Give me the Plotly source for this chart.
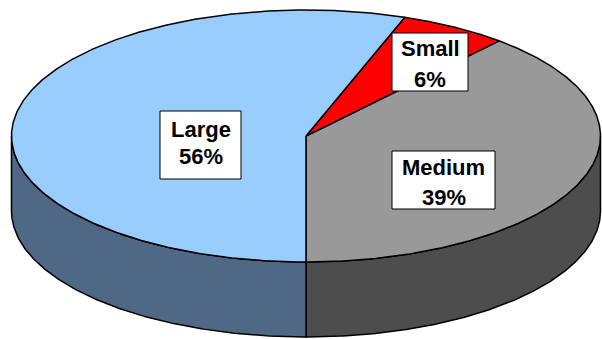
import numpy as np
import plotly.graph_objects as go

# Slice data, in drawing order (counter-clockwise from six o'clock)
categories = ["Medium", "Small", "Large"]
shares = [39, 6, 56]
top_colors = ["#999999", "#FF0000", "#99CCFF"]
side_colors = ["#4D4D4D", "#B00000", "#4F6886"]

# Pie geometry (pixel space of the page)
W, H = 602, 339
CX, CY = 306.0, 136.0     # centre of the top face
RX, RY = 294.5, 126.0     # semi-axes of the top ellipse
DEPTH = 75.0              # thickness of the disc
START = -90.0             # degrees, six o'clock

# Label boxes: left, top, right, bottom, and the centre y of each text line
label_boxes = {
    "Large": (160, 111, 241, 179, 129.0, 156.5),
    "Small": (392, 33, 468, 91, 48.5, 79.5),
    "Medium": (392, 151, 495, 209, 167.5, 197.5),
}
FONT = dict(family="Liberation Sans, Arial, sans-serif", size=22,
            color="black", weight="bold")


def ellipse(theta_deg, drop=0.0):
    t = np.radians(theta_deg)
    return CX + RX * np.cos(t), CY - RY * np.sin(t) + drop


total = float(sum(shares))
bounds = [START]
for s in shares:
    bounds.append(bounds[-1] + 360.0 * s / total)

fig = go.Figure()

# Front side wall of each slice (only the part facing the viewer)
for i, name in enumerate(categories):
    a0, a1 = bounds[i], bounds[i + 1]
    for lo, hi in [(-180.0, 0.0), (180.0, 360.0)]:
        s0, s1 = max(a0, lo), min(a1, hi)
        if s1 - s0 <= 0.01:
            continue
        th = np.linspace(s0, s1, 200)
        xt, yt = ellipse(th)
        xb, yb = ellipse(th[::-1], DEPTH)
        xs = np.concatenate([xt, xb, xt[:1]])
        ys = np.concatenate([yt, yb, yt[:1]])
        fig.add_trace(go.Scatter(
            x=xs, y=ys, mode="lines", fill="toself",
            fillcolor=side_colors[i],
            line=dict(color="black", width=1.5),
            hoverinfo="skip", showlegend=False,
        ))

# Top face of each slice
for i, name in enumerate(categories):
    a0, a1 = bounds[i], bounds[i + 1]
    th = np.linspace(a0, a1, 400)
    xa, ya = ellipse(th)
    xs = np.concatenate([[CX], xa, [CX]])
    ys = np.concatenate([[CY], ya, [CY]])
    fig.add_trace(go.Scatter(
        x=xs, y=ys, mode="lines", fill="toself",
        fillcolor=top_colors[i],
        line=dict(color="black", width=1.5),
        hoverinfo="skip", showlegend=False, name=name,
    ))

# Boxed category / percentage labels
for name, val in zip(categories, shares):
    x0, y0, x1, y1, ly1, ly2 = label_boxes[name]
    fig.add_shape(type="rect", xref="x", yref="y", x0=x0, y0=y0, x1=x1, y1=y1,
                  fillcolor="white", line=dict(color="black", width=1))
    xm = (x0 + x1) / 2
    for txt, ly in [(name, ly1), (f"{val}%", ly2)]:
        fig.add_annotation(x=xm, y=ly, xref="x", yref="y", text=txt,
                           showarrow=False, font=FONT,
                           xanchor="center", yanchor="middle")

fig.update_layout(
    width=W, height=H,
    margin=dict(l=0, r=0, t=0, b=0),
    paper_bgcolor="white", plot_bgcolor="white",
    xaxis=dict(range=[0, W], visible=False, fixedrange=True),
    yaxis=dict(range=[H, 0], visible=False, fixedrange=True),
    showlegend=False,
)

fig.write_html("out.html")
